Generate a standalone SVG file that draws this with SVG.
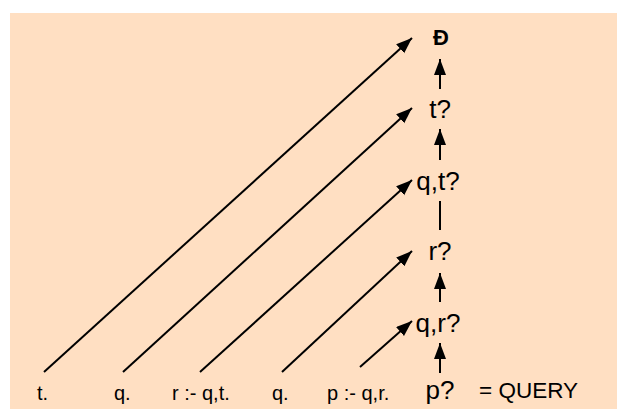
<svg xmlns="http://www.w3.org/2000/svg" width="617" height="409" viewBox="0 0 617 409">
<defs>
<marker id="ah" markerUnits="userSpaceOnUse" markerWidth="18" markerHeight="14" refX="16" refY="6" orient="auto">
<path d="M0,0 L16,6 L0,12 Z" fill="#000"/>
</marker>
<style>
.c{stroke:#000;stroke-width:2;fill:none}
.a{marker-end:url(#ah)}
.n{font-family:"Liberation Sans",Arial,sans-serif;font-size:26px;text-anchor:middle;fill:#000}
.l{font-family:"Liberation Sans",Arial,sans-serif;font-size:20px;fill:#000}
</style>
</defs>
<rect x="10" y="13" width="607" height="396" fill="#FFDFC2"/>
<g id="connectors">
<line class="c a" x1="44" y1="372" x2="412" y2="38"/>
<line class="c a" x1="123" y1="372" x2="412" y2="108"/>
<line class="c a" x1="200" y1="372" x2="412" y2="180"/>
<line class="c a" x1="282" y1="372" x2="412" y2="251"/>
<line class="c a" x1="360" y1="367" x2="412" y2="321"/>
<line class="c a" x1="440" y1="89" x2="440" y2="59"/>
<line class="c a" x1="440" y1="160" x2="440" y2="129"/>
<line class="c" x1="440" y1="201" x2="440" y2="230"/>
<line class="c a" x1="440" y1="302" x2="440" y2="273"/>
<line class="c a" x1="440" y1="373" x2="440" y2="343"/>
</g>
<g id="n_d"><text class="n" x="441" y="45" style="font-weight:bold;font-size:22px">Ð</text></g>
<g id="n_t"><text class="n" x="440" y="118">t?</text></g>
<g id="n_qt"><text class="n" x="438" y="190">q,t?</text></g>
<g id="n_r"><text class="n" x="440" y="260">r?</text></g>
<g id="n_qr"><text class="n" x="438" y="332">q,r?</text></g>
<g id="n_p"><text class="n" x="440" y="399">p?</text></g>
<g id="query"><text class="l" x="479" y="398" style="font-size:22.5px">= QUERY</text></g>
<g id="f1"><text class="l" x="37" y="400">t.</text></g>
<g id="f2"><text class="l" x="114" y="400">q.</text></g>
<g id="f3"><text class="l" x="172" y="400">r :- q,t.</text></g>
<g id="f4"><text class="l" x="272" y="400">q.</text></g>
<g id="f5"><text class="l" x="327" y="400">p :- q,r.</text></g>
</svg>
